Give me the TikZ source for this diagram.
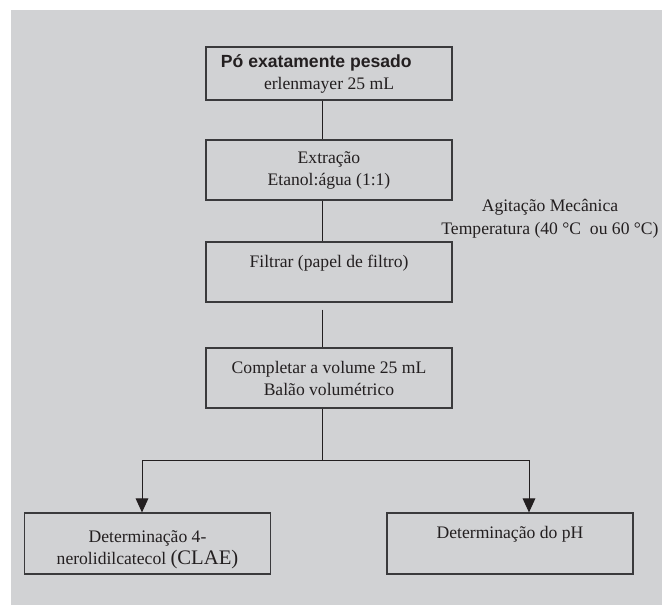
\documentclass[tikz,border=0pt]{standalone}
\usepackage{fontspec}
\setmainfont{Liberation Serif}
\setsansfont{Liberation Sans}
\usetikzlibrary{arrows.meta}
\definecolor{bg}{RGB}{209,210,212}
\definecolor{ink}{RGB}{35,31,32}
\definecolor{edge}{RGB}{58,58,60}
\begin{document}
\begin{tikzpicture}[x=0.75pt,y=-0.75pt,
  box/.style={draw=edge,line width=0.9pt,minimum width=184.5pt,minimum height=45pt,
    inner sep=0pt,align=center,text=ink,font=\fontsize{13.2}{16.5}\selectfont},
  conn/.style={draw=ink,line width=0.75pt},
  arr/.style={conn,-{Triangle[width=9.5pt,length=10.5pt]}},
  lbl/.style={text=ink,align=center,inner sep=0pt,font=\fontsize{13.2}{17.25}\selectfont}]
\fill[white] (0,0) rectangle (662,605);
\fill[bg] (11,10) rectangle (662,605);
\useasboundingbox (0,0) rectangle (662,605);

\node[box,minimum height=39.75pt] (b1) at (329,73.5)
  {{\sffamily\bfseries Pó exatamente pesado}\hspace*{19pt}\\ erlenmayer 25 mL};
\node[box] (b2) at (329,170) {Extração\\Etanol:água (1:1)};
\node[box] (b3) at (329,272) {Filtrar (papel de filtro)\\\mbox{}};
\node[box] (b4) at (329,378) {Completar a volume 25 mL\\Balão volumétrico};
\node[box,minimum height=45.75pt] (b5) at (147.5,543.5)
  {\rule{0pt}{17.8pt}Determinação 4-\\nerolidilcatecol {\fontsize{15.5}{16.5}\selectfont (CLAE)}};
\node[box,minimum height=45.75pt] (b6) at (510,543.5) {Determinação do pH\\\mbox{}};
\node[lbl] (t1) at (550,218.5) {Agitação Mecânica\\Temperatura (40 °C\ \ ou 60 °C)};

\coordinate (sp) at (322,0);
\coordinate (bm) at (322,461);
\coordinate (bl) at (142,461);
\coordinate (br) at (529,461);
\draw[conn] (b1.south -| sp) -- (b2.north -| sp);
\draw[conn] (b2.south -| sp) -- (b3.north -| sp);
\draw[conn,shorten <=5.25pt] (b3.south -| sp) -- (b4.north -| sp);
\draw[conn] (b4.south -| sp) -- (bm);
\draw[arr] (bm) -- (bl) -- (b5.north -| bl);
\draw[arr] (bm) -- (br) -- (b6.north -| br);
\end{tikzpicture}
\end{document}
